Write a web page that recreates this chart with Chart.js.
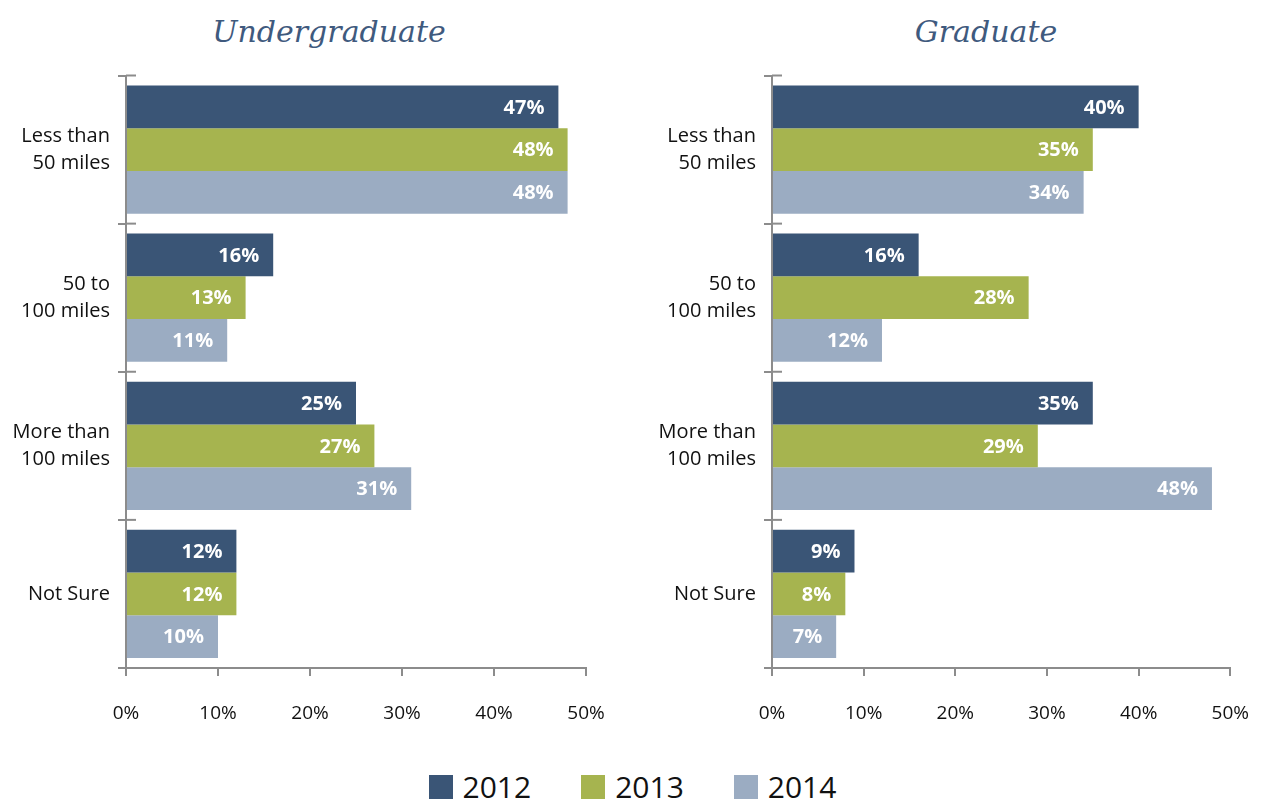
<!DOCTYPE html>
<html>
<head>
<meta charset="utf-8">
<script src="https://cdn.jsdelivr.net/npm/chart.js@4.4.0/dist/chart.umd.min.js"></script>
<style>
  body { margin: 0; background: #fff; width: 1265px; height: 802px; position: relative; overflow: hidden; }
  .title { position: absolute; top: 14px; font-family: "DejaVu Serif", serif; font-style: italic; font-size: 30px; color: #3f5a7e; text-align: center; width: 400px; margin: 0; font-weight: normal; }
  canvas { position: absolute; top: 54px; }
  #legend { position: absolute; top: 766px; left: 0; width: 1265px; display: flex; justify-content: center; font-family: "Open Sans", sans-serif; font-size: 30px; color: #111; }
  .item { display: flex; align-items: center; margin: 0 25px; }
  .box { width: 24px; height: 24px; margin-right: 10px; }
</style>
</head>
<body>
<h2 class="title" style="left: 129px;">Undergraduate</h2>
<h2 class="title" style="left: 786px;">Graduate</h2>
<canvas id="underChart" width="632" height="686" style="left: 0px;"></canvas>
<canvas id="gradChart" width="635" height="686" style="left: 640px;"></canvas>
<div id="legend"></div>
<script>
// Data
const categories = [['Less than', '50 miles'], ['50 to', '100 miles'], ['More than', '100 miles'], 'Not Sure'];
const years = ['2012', '2013', '2014'];
const colors = ['#3a5576', '#a6b44f', '#9bacc2'];

const under2012 = [47, 16, 25, 12];
const under2013 = [48, 13, 27, 12];
const under2014 = [48, 11, 31, 10];

const grad2012 = [40, 16, 35, 9];
const grad2013 = [35, 28, 29, 8];
const grad2014 = [34, 12, 48, 7];

const xTicks = [0, 10, 20, 30, 40, 50];

const axisGrey = '#8c8c8c';

// Draws the value inside the end of each bar
const barLabels = {
    id: 'barLabels',
    afterDatasetsDraw(chart) {
        const ctx = chart.ctx;
        ctx.save();
        ctx.font = 'bold 20px "Open Sans"';
        ctx.fillStyle = '#fff';
        ctx.textAlign = 'right';
        ctx.textBaseline = 'middle';
        chart.data.datasets.forEach((ds, i) => {
            chart.getDatasetMeta(i).data.forEach((bar, j) => {
                ctx.fillText(ds.data[j] + '%', bar.x - 14, bar.y + 1);
            });
        });
        ctx.restore();
    }
};

// Short stubs to the right of the category axis, so the ticks look like crosses
const crossTicks = {
    id: 'crossTicks',
    afterDraw(chart) {
        const y = chart.scales.y;
        const x = chart.scales.x;
        const band = y.getPixelForValue(1) - y.getPixelForValue(0);
        const ctx = chart.ctx;
        ctx.save();
        ctx.strokeStyle = axisGrey;
        ctx.lineWidth = 2;
        for (let i = 0; i < categories.length; i++) {
            const py = y.getPixelForValue(i) - band / 2;
            ctx.beginPath();
            ctx.moveTo(x.left, py);
            ctx.lineTo(x.left + 10, py);
            ctx.stroke();
        }
        ctx.restore();
    }
};

function makeChart(id, series, axisWidth, padRight) {
    const ctx = document.getElementById(id).getContext('2d');
    return new Chart(ctx, {
        type: 'bar',
        data: {
            labels: categories,
            datasets: series.map((data, i) => ({
                label: years[i],
                data: data,
                backgroundColor: colors[i],
                categoryPercentage: 0.865,
                barPercentage: 1.0
            }))
        },
        options: {
            indexAxis: 'y',
            responsive: false,
            animation: false,
            devicePixelRatio: 1,
            layout: { padding: { top: 10, right: padRight, left: 0, bottom: 0 } },
            plugins: {
                legend: { display: false },
                tooltip: { enabled: false }
            },
            scales: {
                x: {
                    min: xTicks[0],
                    max: xTicks[xTicks.length - 1],
                    afterBuildTicks: (scale) => { scale.ticks = xTicks.map(v => ({ value: v })); },
                    afterFit: (scale) => { scale.height = 72; },
                    grid: { drawOnChartArea: false, tickLength: 8, color: axisGrey, lineWidth: 2 },
                    border: { color: axisGrey, width: 2 },
                    ticks: {
                        callback: (v) => v + '%',
                        color: '#111',
                        font: { family: 'Open Sans', size: 19 },
                        padding: 26,
                        maxRotation: 0
                    }
                },
                y: {
                    afterFit: (scale) => { scale.width = axisWidth; },
                    grid: { drawOnChartArea: false, offset: true, tickLength: 8, color: axisGrey, lineWidth: 2 },
                    border: { color: axisGrey, width: 2 },
                    ticks: {
                        color: '#111',
                        font: { family: 'Open Sans', size: 20, lineHeight: 1.35 },
                        padding: 8
                    }
                }
            }
        },
        plugins: [barLabels, crossTicks]
    });
}

makeChart('underChart', [under2012, under2013, under2014], 126, 46);
makeChart('gradChart', [grad2012, grad2013, grad2014], 132, 29);

// Legend
const legend = document.getElementById('legend');
years.forEach((year, i) => {
    const item = document.createElement('div');
    item.className = 'item';
    item.innerHTML = `<span class="box" style="background:${colors[i]}"></span><span>${year}</span>`;
    legend.appendChild(item);
});
</script>
</body>
</html>
